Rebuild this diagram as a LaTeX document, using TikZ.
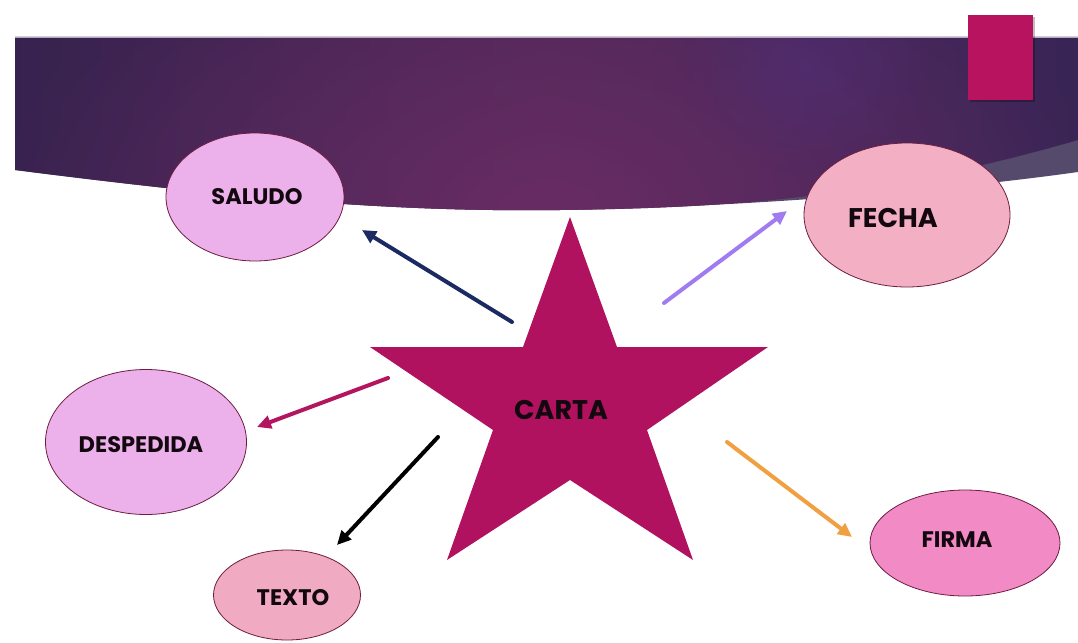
\documentclass[tikz,border=0pt]{standalone}
\usepackage{fontspec}
\setmainfont{Poppins}
\usetikzlibrary{shapes.geometric,arrows.meta,fadings}
\definecolor{bA}{HTML}{2A1F47}
\definecolor{bB}{HTML}{3A2350}
\definecolor{bC}{HTML}{4C2757}
\definecolor{bD}{HTML}{3E2658}
\definecolor{bE}{HTML}{2D214E}
\definecolor{bF}{HTML}{251D43}
\pgfdeclarehorizontalshading{bannershade}{100bp}{color(0bp)=(bA); color(30bp)=(bB); color(50bp)=(bC); color(70bp)=(bD); color(85bp)=(bE); color(100bp)=(bF)}
\tikzfading[name=softglow, inner color=transparent!0, outer color=transparent!100]
\definecolor{glowmag}{HTML}{6D2D66}
\definecolor{glowvio}{HTML}{4F2F76}
\definecolor{starcol}{HTML}{B1125F}
\definecolor{squarecol}{HTML}{B8135E}
\definecolor{graycol}{HTML}{564A6C}
\definecolor{topline}{HTML}{B4A8C4}
\definecolor{lav}{HTML}{ECB1EA}
\definecolor{pinkA}{HTML}{F3AFC4}
\definecolor{pinkB}{HTML}{F0AAC1}
\definecolor{pinkC}{HTML}{F28BC5}
\definecolor{edgecol}{HTML}{6E1C40}
\definecolor{txtcol}{HTML}{140810}
\definecolor{navy}{HTML}{1B2A62}
\definecolor{violet}{HTML}{A07CF0}
\definecolor{magarrow}{HTML}{B3155F}
\definecolor{orangearrow}{HTML}{F0A040}
\tikzset{
  bubble/.style={ellipse, draw=edgecol, line width=0.8pt, inner sep=0pt},
  lbl/.style={text=txtcol, font=\bfseries\fontsize{22.5}{26}\selectfont, inner sep=0pt},
  biglbl/.style={text=txtcol, font=\bfseries\fontsize{27}{31}\selectfont, inner sep=0pt},
  conn/.style={line width=4pt, line cap=round, -{Triangle[length=14pt,width=13pt]}}
}
\begin{document}
\begin{tikzpicture}[x=1pt,y=-1pt]
\useasboundingbox (0,0) rectangle (1078,642);
\fill[white] (0,0) rectangle (1078,642);
% banner: gray band first
\fill[graycol] (15,37) -- (1078,37) -- (1078,172)
  .. controls (950,190) and (750,207) .. (560,210)
  .. controls (400,212) and (250,200) .. (15,170) -- cycle;
\begin{scope}
\clip (15,37) -- (1078,37) -- (1078,140)
  .. controls (870,200) and (720,208) .. (560,210)
  .. controls (400,212) and (250,200) .. (15,170) -- cycle;
\shade[shading=bannershade] (15,37) rectangle (1078,215);
\fill[glowmag, opacity=0.85, path fading=softglow] (550,215) ellipse [x radius=560, y radius=330];
\fill[glowvio, opacity=0.6, path fading=softglow] (805,65) ellipse [x radius=130, y radius=110];
\end{scope}
\draw[color=topline, line width=1.2pt] (15,37.5) -- (1078,37.5);
% pink square
\fill[black, opacity=0.25] (970,17) rectangle (1035,102);
\fill[squarecol] (968,15) rectangle (1033,100);
% star
\fill[starcol] (570,217) -- (617,347) -- (768,347) -- (647,430) -- (693,560)
  -- (570,480) -- (447,560) -- (493,430) -- (370,347) -- (523,347) -- cycle;
\node[biglbl] (carta) at (561,410) {CARTA};
% ellipses
\node[bubble, fill=lav, minimum width=178pt, minimum height=128pt] (saludo) at (255,197) {};
\node[lbl] (saludoT) at (257,197) {SALUDO};
\node[bubble, fill=pinkA, minimum width=206pt, minimum height=144pt] (fecha) at (907,215) {};
\node[biglbl] (fechaT) at (893,218) {FECHA};
\node[bubble, fill=lav, minimum width=201pt, minimum height=145pt] (despedida) at (146,442) {};
\node[lbl] (despedidaT) at (141,445) {DESPEDIDA};
\node[bubble, fill=pinkB, minimum width=147pt, minimum height=90pt] (texto) at (287,595) {};
\node[lbl] (textoT) at (293,598) {TEXTO};
\node[bubble, fill=pinkC, minimum width=190pt, minimum height=106pt] (firma) at (965,543) {};
\node[lbl] (firmaT) at (957,540) {FIRMA};
% connector ends
\coordinate (s1) at (512,322); \coordinate (s2) at (362,230);
\coordinate (f1) at (664,303); \coordinate (f2) at (787,211);
\coordinate (d1) at (388,378); \coordinate (d2) at (257,427);
\coordinate (t1) at (438,437); \coordinate (t2) at (337,545);
\coordinate (r1) at (727,442); \coordinate (r2) at (852,537);
\draw[conn, navy] (s1) -- (s2);
\draw[conn, violet] (f1) -- (f2);
\draw[conn, magarrow] (d1) -- (d2);
\draw[conn, black] (t1) -- (t2);
\draw[conn, orangearrow] (r1) -- (r2);
\end{tikzpicture}
\end{document}
